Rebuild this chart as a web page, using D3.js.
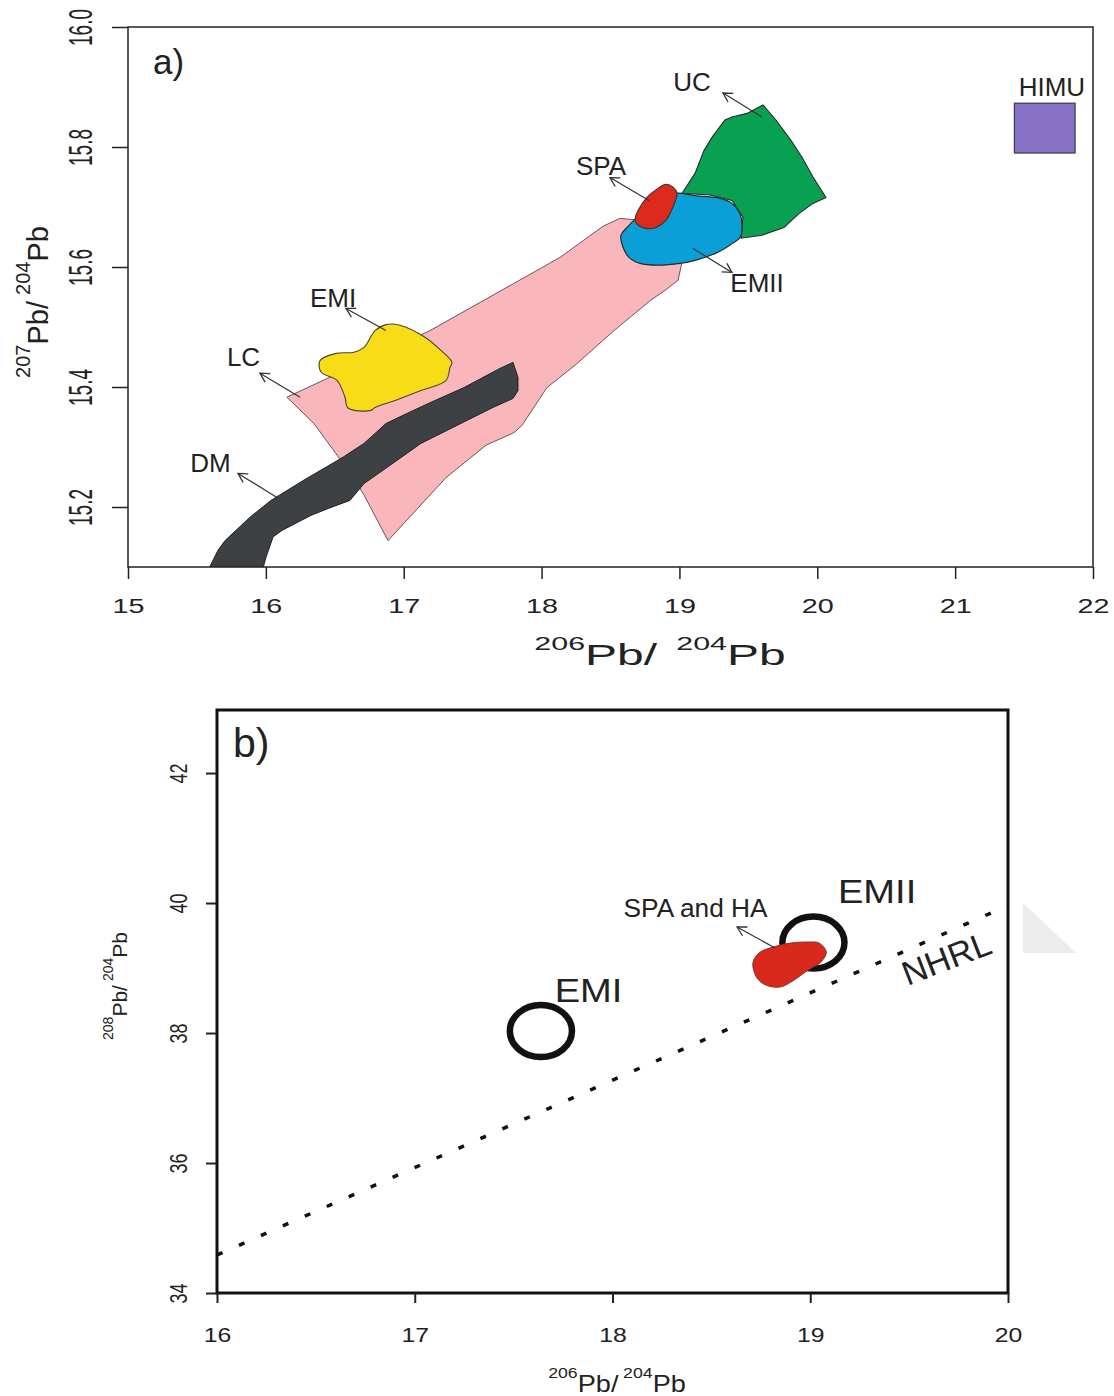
<!DOCTYPE html>
<html>
<head>
<meta charset="utf-8">
<script src="https://cdn.jsdelivr.net/npm/d3@7"></script>
<style>
body { margin: 0; background: #fff; }
text { font-family: "Liberation Sans", Arial, sans-serif; fill: #222; }
</style>
</head>
<body>
<svg id="fig" width="1114" height="1396"></svg>
<script>

// ---- panel a : 207Pb/204Pb vs 206Pb/204Pb ----
var aXTicks = [15, 16, 17, 18, 19, 20, 21, 22];
var aYTicks = [15.2, 15.4, 15.6, 15.8, 16.0];

// lower crust field (pink)
var lcField = [[16.153,15.383],[17.191,15.494],[18.134,15.616],[18.446,15.668],[18.569,15.681],[18.714,15.678],
	[19.019,15.608],[18.990,15.578],[18.895,15.561],[18.794,15.545],[18.525,15.494],[18.257,15.439],[18.039,15.399],
	[17.858,15.336],[17.800,15.324],[17.597,15.303],[17.307,15.249],[16.886,15.144],[16.705,15.223],[16.509,15.289],
	[16.349,15.339]];
// depleted mantle band (dark grey)
var dmField = [[15.588,15.098],[15.653,15.128],[15.704,15.144],[15.885,15.183],[16.037,15.211],[16.277,15.245],
	[16.560,15.283],[16.712,15.306],[16.871,15.339],[17.024,15.356],[17.183,15.373],[17.437,15.399],[17.698,15.431],
	[17.793,15.441],[17.829,15.416],[17.829,15.394],[17.793,15.381],[17.648,15.366],[17.386,15.336],[17.125,15.306],
	[16.922,15.273],[16.712,15.239],[16.610,15.211],[16.458,15.198],[16.327,15.186],[16.117,15.161],[16.052,15.150],
	[16.001,15.116],[15.979,15.098]];
// EMI (yellow)
var emiField = [[16.393,15.444],[16.400,15.425],[16.516,15.411],[16.574,15.383],[16.596,15.365],[16.763,15.361],
	[16.792,15.366],[16.944,15.378],[17.125,15.394],[17.307,15.411],[17.336,15.433],[17.350,15.441],[17.270,15.461],
	[17.154,15.483],[16.973,15.503],[16.871,15.504],[16.792,15.494],[16.712,15.466],[16.639,15.458],[16.509,15.456]];
// upper crust (green)
var ucField = [[19.019,15.723],[19.113,15.756],[19.178,15.794],[19.236,15.816],[19.330,15.845],[19.381,15.850],
	[19.490,15.856],[19.606,15.870],[19.700,15.845],[19.809,15.811],[19.889,15.783],[19.969,15.750],[20.063,15.716],
	[19.969,15.706],[19.867,15.689],[19.758,15.666],[19.599,15.653],[19.447,15.648],[19.461,15.683],[19.381,15.711],
	[19.222,15.720]];
// EMII (blue)
var emiiField = [[18.982,15.723],[19.113,15.719],[19.302,15.714],[19.381,15.706],[19.439,15.689],[19.454,15.666],
	[19.439,15.649],[19.381,15.639],[19.273,15.624],[19.113,15.611],[19.004,15.606],[18.844,15.603],[18.714,15.606],
	[18.634,15.616],[18.591,15.633],[18.576,15.653],[18.620,15.666],[18.685,15.681],[18.794,15.700],[18.903,15.716]];
// SPA samples (red)
var spaField = [[18.678,15.678],[18.700,15.694],[18.765,15.716],[18.844,15.731],[18.903,15.738],[18.953,15.733],
	[18.982,15.723],[18.953,15.700],[18.903,15.678],[18.830,15.666],[18.765,15.664],[18.700,15.670]];
// HIMU box: x0, y0, x1, y1
var himuBox = [21.43, 15.790, 21.87, 15.873];

var aLabelNames = ['UC', 'HIMU', 'SPA', 'EMII', 'EMI', 'LC', 'DM'];
var aLabelPos = [[19.091,15.909],[21.702,15.900],[18.431,15.768],[19.563,15.573],[16.487,15.548],[15.838,15.450],[15.598,15.273]];
// arrows: [from, to] (head at "to")
var aArrows = [
	[[19.599,15.850],[19.316,15.890]],
	[[18.779,15.711],[18.496,15.749]],
	[[19.098,15.631],[19.381,15.591]],
	[[16.871,15.494],[16.581,15.531]],
	[[16.248,15.383],[15.957,15.423]],
	[[16.081,15.216],[15.798,15.256]]
];

// ---- panel b : 208Pb/204Pb vs 206Pb/204Pb ----
var bXTicks = [16, 17, 18, 19, 20];
var bYTicks = [34, 36, 38, 40, 42];

// rings: cx, cy, rx, ry
var emiRing = [17.638, 38.031, 0.157, 0.40];
var emiiRing = [19.016, 39.392, 0.157, 0.40];
var spaHaField = [[18.710,39.077],[18.741,39.231],[18.812,39.323],[18.903,39.385],[18.989,39.400],[19.044,39.385],
	[19.081,39.246],[19.054,39.092],[18.989,38.969],[18.918,38.815],[18.847,38.708],[18.776,38.738],[18.731,38.846]];
var nhrlLine = [[16, 34.585], [20, 39.962]];
var bLabelNames = ['EMI', 'EMII', 'SPA and HA'];
var bLabelPos = [[17.879,38.66],[19.338,40.177],[18.420,39.923]];
var bArrow = [[18.822,39.308],[18.630,39.631]];
var nhrlLabelPos = [19.710, 38.98];
var scanShade = [[20.076,40.0],[20.344,39.231],[20.076,39.231]];

var svg = d3.select('#fig');
svg.append('rect').attr('width', 1114).attr('height', 1396).attr('fill', '#fff');

var defs = svg.append('defs');
defs.append('marker')
	.attr('id', 'head')
	.attr('viewBox', '-12 -7 14 14')
	.attr('refX', 0).attr('refY', 0)
	.attr('markerWidth', 14).attr('markerHeight', 14)
	.attr('markerUnits', 'userSpaceOnUse')
	.attr('orient', 'auto')
	.append('path')
	.attr('d', 'M-9,-5 L0,0 L-9,5')
	.attr('fill', 'none')
	.attr('stroke', '#333')
	.attr('stroke-width', 1.3);

// text helper: centered, optionally rotated and stretched
function label(g, px, py, str, size, rot, sx, sy) {
	return g.append('text')
		.attr('transform', 'translate(' + px + ',' + py + ') rotate(' + (rot || 0) + ') scale(' + (sx || 1) + ',' + (sy || 1) + ')')
		.attr('text-anchor', 'middle')
		.attr('dominant-baseline', 'central')
		.style('font-size', size + 'px')
		.text(str);
}

// isotope ratio title, e.g. 206Pb / 204Pb
function ratioTitle(g, tf, top, bottom, big, small, rise, gap) {
	var t = g.append('text')
		.attr('transform', tf)
		.attr('text-anchor', 'middle')
		.style('font-size', big + 'px');
	t.append('tspan').style('font-size', small + 'px').attr('dy', -rise).text(top);
	t.append('tspan').attr('dy', rise).text('Pb');
	t.append('tspan').text('/');
	t.append('tspan').style('font-size', small + 'px').attr('dx', gap).attr('dy', -rise).text(bottom);
	t.append('tspan').attr('dy', rise).text('Pb');
	return t;
}

function styleAxis(ga, width) {
	ga.attr('font-size', null).attr('font-family', null);
	ga.select('.domain').remove();
	ga.selectAll('line').attr('stroke', '#222').attr('stroke-width', width);
}

function drawPanelA() {
	var x = d3.scaleLinear().domain([15, 22]).range([128, 1093]);
	var y = d3.scaleLinear().domain([15.1, 16.0]).range([567, 27]);
	var g = svg.append('g');

	defs.append('clipPath').attr('id', 'clipA').append('rect')
		.attr('x', x(15)).attr('y', y(16)).attr('width', x(22) - x(15)).attr('height', y(15.1) - y(16));

	var straight = d3.line().x(function(d) { return x(d[0]); }).y(function(d) { return y(d[1]); })
		.curve(d3.curveLinearClosed);
	var round = d3.line().x(function(d) { return x(d[0]); }).y(function(d) { return y(d[1]); })
		.curve(d3.curveCatmullRomClosed.alpha(0.5));

	var fields = g.append('g').attr('clip-path', 'url(#clipA)');
	fields.append('path').attr('d', straight(lcField)).attr('fill', '#f9b6bb').attr('stroke', '#5e4545').attr('stroke-width', 0.9);
	fields.append('path').attr('d', round(emiField)).attr('fill', '#f8dc18').attr('stroke', '#4a4630').attr('stroke-width', 1.1);
	fields.append('path').attr('d', straight(dmField)).attr('fill', '#3d4143').attr('stroke', '#222').attr('stroke-width', 1);
	fields.append('path').attr('d', straight(ucField)).attr('fill', '#07a151').attr('stroke', '#2a2a2a').attr('stroke-width', 1.1);
	fields.append('path').attr('d', round(emiiField)).attr('fill', '#0a9fd6').attr('stroke', '#2a2a2a').attr('stroke-width', 1.2);
	fields.append('path').attr('d', round(spaField)).attr('fill', '#dc2b1e').attr('stroke', '#4a2a22').attr('stroke-width', 1.1);
	fields.append('rect')
		.attr('x', x(himuBox[0])).attr('y', y(himuBox[3]))
		.attr('width', x(himuBox[2]) - x(himuBox[0])).attr('height', y(himuBox[1]) - y(himuBox[3]))
		.attr('fill', '#8872c6').attr('stroke', '#3a3a48').attr('stroke-width', 1.2);

	g.selectAll('line.arrow').data(aArrows).enter().append('line')
		.attr('class', 'arrow')
		.attr('x1', function(d) { return x(d[0][0]); }).attr('y1', function(d) { return y(d[0][1]); })
		.attr('x2', function(d) { return x(d[1][0]); }).attr('y2', function(d) { return y(d[1][1]); })
		.attr('stroke', '#333').attr('stroke-width', 1.2)
		.attr('marker-end', 'url(#head)');

	aLabelNames.forEach(function(n, i) {
		label(g, x(aLabelPos[i][0]), y(aLabelPos[i][1]), n, 26);
	});

	// frame
	g.append('rect').attr('x', x(15)).attr('y', y(16)).attr('width', x(22) - x(15)).attr('height', y(15.1) - y(16))
		.attr('fill', 'none').attr('stroke', '#222').attr('stroke-width', 1.5);

	var gx = g.append('g').attr('transform', 'translate(0,' + y(15.1) + ')')
		.call(d3.axisBottom(x).tickValues(aXTicks).tickSize(12).tickFormat(d3.format('d')));
	styleAxis(gx, 1.5);
	gx.selectAll('text').attr('y', null).attr('dy', null)
		.attr('dominant-baseline', 'central').attr('fill', '#222')
		.attr('transform', 'translate(0,38.5) scale(1.37,1)')
		.style('font-size', '21px');

	var gy = g.append('g').attr('transform', 'translate(' + x(15) + ',0)')
		.call(d3.axisLeft(y).tickValues(aYTicks).tickSize(16).tickFormat(d3.format('.1f')));
	styleAxis(gy, 1.5);
	gy.selectAll('text').attr('x', null).attr('dy', null)
		.attr('text-anchor', 'middle').attr('dominant-baseline', 'central').attr('fill', '#222')
		.attr('transform', 'translate(-48,0) rotate(-90) scale(1,1.75)')
		.style('font-size', '19px');

	g.append('text').attr('x', x(15) + 25).attr('y', y(16) + 47).style('font-size', '35px').text('a)');

	ratioTitle(g, 'translate(660,665) scale(1.6,1)', '206', '204', 30, 19, 15, 12);
	ratioTitle(g, 'translate(48,302) rotate(-90)', '207', '204', 29, 20, 18, 6);
}

function drawPanelB() {
	var x = d3.scaleLinear().domain([16, 20]).range([217, 1008]);
	var y = d3.scaleLinear().domain([34, 42.97]).range([1293, 710]);
	var g = svg.append('g');

	defs.append('clipPath').attr('id', 'clipB').append('rect')
		.attr('x', x(16)).attr('y', y(42.97)).attr('width', x(20) - x(16)).attr('height', y(34) - y(42.97));

	// scan shading at the right margin
	g.append('path')
		.attr('d', d3.line().x(function(d) { return x(d[0]); }).y(function(d) { return y(d[1]); }).curve(d3.curveLinearClosed)(scanShade))
		.attr('fill', '#ececec');

	var inner = g.append('g').attr('clip-path', 'url(#clipB)');

	inner.append('path')
		.attr('d', d3.line().x(function(d) { return x(d[0]); }).y(function(d) { return y(d[1]); })(nhrlLine))
		.attr('fill', 'none').attr('stroke', '#111').attr('stroke-width', 3.5)
		.attr('stroke-dasharray', '6,18');

	[emiRing, emiiRing].forEach(function(r) {
		inner.append('ellipse')
			.attr('cx', x(r[0])).attr('cy', y(r[1]))
			.attr('rx', x(r[0] + r[2]) - x(r[0])).attr('ry', y(r[1]) - y(r[1] + r[3]))
			.attr('fill', 'none').attr('stroke', '#111').attr('stroke-width', 6.5);
	});

	var round = d3.line().x(function(d) { return x(d[0]); }).y(function(d) { return y(d[1]); })
		.curve(d3.curveCatmullRomClosed.alpha(0.5));
	inner.append('path').attr('d', round(spaHaField)).attr('fill', '#d9291c').attr('stroke', '#7a3328').attr('stroke-width', 1);

	g.append('line')
		.attr('x1', x(bArrow[0][0])).attr('y1', y(bArrow[0][1]))
		.attr('x2', x(bArrow[1][0])).attr('y2', y(bArrow[1][1]))
		.attr('stroke', '#333').attr('stroke-width', 1.2)
		.attr('marker-end', 'url(#head)');

	var bSizes = [34, 34, 25];
	bLabelNames.forEach(function(n, i) {
		label(g, x(bLabelPos[i][0]), y(bLabelPos[i][1]), n, bSizes[i], 0, i < 2 ? 1.12 : 1.05, 1);
	});

	g.append('text')
		.attr('transform', 'translate(' + x(nhrlLabelPos[0]) + ',' + y(nhrlLabelPos[1]) + ') rotate(-21)')
		.attr('text-anchor', 'middle')
		.style('font-size', '34px')
		.text('NHRL');

	g.append('rect').attr('x', x(16)).attr('y', y(42.97)).attr('width', x(20) - x(16)).attr('height', y(34) - y(42.97))
		.attr('fill', 'none').attr('stroke', '#111').attr('stroke-width', 3);

	var gx = g.append('g').attr('transform', 'translate(0,' + y(34) + ')')
		.call(d3.axisBottom(x).tickValues(bXTicks).tickSize(10).tickFormat(d3.format('d')));
	styleAxis(gx, 2);
	gx.selectAll('text').attr('y', null).attr('dy', null)
		.attr('dominant-baseline', 'central').attr('fill', '#222')
		.attr('transform', 'translate(0,41.5) scale(1.18,1)')
		.style('font-size', '21px');

	var gy = g.append('g').attr('transform', 'translate(' + x(16) + ',0)')
		.call(d3.axisLeft(y).tickValues(bYTicks).tickSize(11).tickFormat(d3.format('d')));
	styleAxis(gy, 2);
	gy.selectAll('text').attr('x', null).attr('dy', null)
		.attr('text-anchor', 'middle').attr('dominant-baseline', 'central').attr('fill', '#222')
		.attr('transform', 'translate(-38.5,0) rotate(-90) scale(1,1.3)')
		.style('font-size', '18px');

	g.append('text').attr('x', x(16) + 16).attr('y', y(42.97) + 47).style('font-size', '41px').text('b)');

	ratioTitle(g, 'translate(617,1392) scale(1.18,1)', '206', '204', 23, 15, 14, 4);
	ratioTitle(g, 'translate(127,986) rotate(-90)', '208', '204', 21, 14, 14, 4);
}

drawPanelA();
drawPanelB();
</script>
</body>
</html>
